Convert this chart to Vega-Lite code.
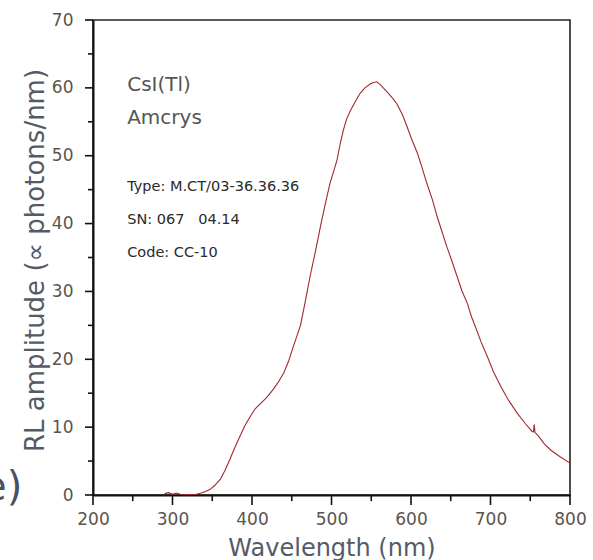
{
  "$schema": "https://vega.github.io/schema/vega-lite/v6.json",
  "width": 477,
  "height": 475,
  "autosize": {"type": "none"},
  "padding": {"left": 93, "top": 20, "right": 23, "bottom": 65},
  "background": "white",
  "config": {
    "font": "DejaVu Sans",
    "view": {"stroke": "#222", "strokeWidth": 1.6},
    "axis": {"grid": false}
  },
  "datasets": {
    "spectrum": [
      {"wavelength": 290, "amplitude": 0.2}, {"wavelength": 295, "amplitude": 0.35}, {"wavelength": 300, "amplitude": 0.1},
      {"wavelength": 305, "amplitude": 0.3}, {"wavelength": 310, "amplitude": 0.1}, {"wavelength": 320, "amplitude": 0.05},
      {"wavelength": 330, "amplitude": 0.1}, {"wavelength": 335, "amplitude": 0.25}, {"wavelength": 340, "amplitude": 0.45},
      {"wavelength": 347, "amplitude": 0.8}, {"wavelength": 353, "amplitude": 1.4}, {"wavelength": 360, "amplitude": 2.3},
      {"wavelength": 366, "amplitude": 3.6}, {"wavelength": 372, "amplitude": 5.2}, {"wavelength": 378, "amplitude": 6.9},
      {"wavelength": 385, "amplitude": 8.7}, {"wavelength": 391, "amplitude": 10.2}, {"wavelength": 398, "amplitude": 11.6},
      {"wavelength": 404, "amplitude": 12.7}, {"wavelength": 410, "amplitude": 13.4}, {"wavelength": 418, "amplitude": 14.3},
      {"wavelength": 427, "amplitude": 15.6}, {"wavelength": 434, "amplitude": 16.8}, {"wavelength": 440, "amplitude": 18.0},
      {"wavelength": 446, "amplitude": 19.7}, {"wavelength": 452, "amplitude": 21.9}, {"wavelength": 457, "amplitude": 23.6},
      {"wavelength": 461, "amplitude": 25.0}, {"wavelength": 467, "amplitude": 28.5}, {"wavelength": 473, "amplitude": 32.2},
      {"wavelength": 480, "amplitude": 36.0}, {"wavelength": 486, "amplitude": 39.5}, {"wavelength": 492, "amplitude": 42.8},
      {"wavelength": 498, "amplitude": 45.9}, {"wavelength": 503, "amplitude": 47.8}, {"wavelength": 507, "amplitude": 49.4},
      {"wavelength": 511, "amplitude": 51.8}, {"wavelength": 515, "amplitude": 53.8}, {"wavelength": 519, "amplitude": 55.4},
      {"wavelength": 524, "amplitude": 56.7}, {"wavelength": 530, "amplitude": 58.0}, {"wavelength": 536, "amplitude": 59.2},
      {"wavelength": 542, "amplitude": 60.0}, {"wavelength": 549, "amplitude": 60.6}, {"wavelength": 553, "amplitude": 60.8},
      {"wavelength": 557, "amplitude": 60.9}, {"wavelength": 562, "amplitude": 60.4}, {"wavelength": 566, "amplitude": 59.9},
      {"wavelength": 570, "amplitude": 59.4}, {"wavelength": 576, "amplitude": 58.6}, {"wavelength": 582, "amplitude": 57.7},
      {"wavelength": 589, "amplitude": 56.1}, {"wavelength": 595, "amplitude": 54.3}, {"wavelength": 601, "amplitude": 52.4},
      {"wavelength": 608, "amplitude": 50.4}, {"wavelength": 614, "amplitude": 48.2}, {"wavelength": 620, "amplitude": 45.9},
      {"wavelength": 627, "amplitude": 43.5}, {"wavelength": 633, "amplitude": 41.0}, {"wavelength": 639, "amplitude": 38.8},
      {"wavelength": 645, "amplitude": 36.6}, {"wavelength": 652, "amplitude": 34.3}, {"wavelength": 658, "amplitude": 32.2},
      {"wavelength": 664, "amplitude": 30.1}, {"wavelength": 671, "amplitude": 28.2}, {"wavelength": 676, "amplitude": 26.3},
      {"wavelength": 681, "amplitude": 24.8}, {"wavelength": 688, "amplitude": 22.6}, {"wavelength": 696, "amplitude": 20.4},
      {"wavelength": 704, "amplitude": 18.1}, {"wavelength": 713, "amplitude": 16.0}, {"wavelength": 723, "amplitude": 13.9},
      {"wavelength": 734, "amplitude": 12.0}, {"wavelength": 744, "amplitude": 10.5}, {"wavelength": 752, "amplitude": 9.4},
      {"wavelength": 754, "amplitude": 9.3}, {"wavelength": 755, "amplitude": 10.4}, {"wavelength": 756, "amplitude": 9.2},
      {"wavelength": 760, "amplitude": 8.7}, {"wavelength": 768, "amplitude": 7.5}, {"wavelength": 776, "amplitude": 6.6},
      {"wavelength": 788, "amplitude": 5.6}, {"wavelength": 800, "amplitude": 4.7}
    ],
    "majorX": [
      {"wavelength": 200}, {"wavelength": 300}, {"wavelength": 400}, {"wavelength": 500}, {"wavelength": 600}, {"wavelength": 700}, {"wavelength": 800}
    ],
    "minorX": [
      {"wavelength": 250}, {"wavelength": 350}, {"wavelength": 450}, {"wavelength": 550}, {"wavelength": 650}, {"wavelength": 750}
    ],
    "majorY": [
      {"amplitude": 0}, {"amplitude": 10}, {"amplitude": 20}, {"amplitude": 30}, {"amplitude": 40}, {"amplitude": 50}, {"amplitude": 60}, {"amplitude": 70}
    ],
    "minorY": [
      {"amplitude": 5}, {"amplitude": 15}, {"amplitude": 25}, {"amplitude": 35}, {"amplitude": 45}, {"amplitude": 55}, {"amplitude": 65}
    ],
    "notes": [
      {"wavelength": 243, "amplitude": 60.4, "text": "CsI(Tl)", "kind": "sample"},
      {"wavelength": 243, "amplitude": 55.6, "text": "Amcrys", "kind": "sample"},
      {"wavelength": 243, "amplitude": 45.4, "text": "Type: M.CT/03-36.36.36", "kind": "detail"},
      {"wavelength": 243, "amplitude": 40.5, "text": "SN: 067\u00a0\u00a0\u00a004.14", "kind": "detail"},
      {"wavelength": 243, "amplitude": 35.7, "text": "Code: CC-10", "kind": "detail"},
      {"wavelength": 111, "amplitude": -0.7, "text": "(e)", "kind": "panel"}
    ]
  },
  "layer": [
    {
      "data": {"name": "spectrum"},
      "mark": {"type": "line", "color": "#a3282c", "strokeWidth": 1.1},
      "encoding": {
        "x": {
          "field": "wavelength", "type": "quantitative",
          "scale": {"domain": [200, 800], "nice": false},
          "axis": {
            "values": [200, 300, 400, 500, 600, 700, 800],
            "domainColor": "#111", "domainWidth": 2,
            "ticks": false,
            "labelFontSize": 17, "labelColor": "#5c544c", "labelPadding": 16,
            "labelFlush": false,
            "title": "Wavelength (nm)", "titleFontSize": 24, "titleFontWeight": "normal",
            "titleColor": "#555a66", "titleY": 60, "titleBaseline": "alphabetic"
          }
        },
        "y": {
          "field": "amplitude", "type": "quantitative",
          "scale": {"domain": [0, 70], "nice": false},
          "axis": {
            "values": [0, 10, 20, 30, 40, 50, 60, 70],
            "domainColor": "#111", "domainWidth": 2,
            "ticks": false,
            "labelFontSize": 17, "labelColor": "#5c544c", "labelPadding": 20,
            "labelFlush": false,
            "title": "RL amplitude (\u221d photons/nm)", "titleFontSize": 26, "titleFontWeight": "normal",
            "titleColor": "#555a66", "titleX": -58, "titleY": 240, "titleAngle": -90, "titleAlign": "center", "titleBaseline": "middle"
          }
        }
      }
    },
    {
      "data": {"name": "majorX"},
      "mark": {"type": "rule", "color": "#111", "strokeWidth": 1.6, "clip": false},
      "encoding": {
        "x": {"field": "wavelength", "type": "quantitative"},
        "y": {"datum": 0},
        "y2": {"datum": -1.47}
      }
    },
    {
      "data": {"name": "minorX"},
      "mark": {"type": "rule", "color": "#111", "strokeWidth": 1.6, "clip": false},
      "encoding": {
        "x": {"field": "wavelength", "type": "quantitative"},
        "y": {"datum": 0},
        "y2": {"datum": -0.9}
      }
    },
    {
      "data": {"name": "majorY"},
      "mark": {"type": "rule", "color": "#111", "strokeWidth": 1.6, "clip": false},
      "encoding": {
        "y": {"field": "amplitude", "type": "quantitative"},
        "x": {"datum": 200},
        "x2": {"datum": 189.9}
      }
    },
    {
      "data": {"name": "minorY"},
      "mark": {"type": "rule", "color": "#111", "strokeWidth": 1.6, "clip": false},
      "encoding": {
        "y": {"field": "amplitude", "type": "quantitative"},
        "x": {"datum": 200},
        "x2": {"datum": 193.7}
      }
    },
    {
      "data": {"name": "notes"},
      "transform": [{"filter": "datum.kind === 'sample'"}],
      "mark": {"type": "text", "align": "left", "baseline": "middle", "fontSize": 20, "color": "#555"},
      "encoding": {
        "x": {"field": "wavelength", "type": "quantitative"},
        "y": {"field": "amplitude", "type": "quantitative"},
        "text": {"field": "text"}
      }
    },
    {
      "data": {"name": "notes"},
      "transform": [{"filter": "datum.kind === 'detail'"}],
      "mark": {"type": "text", "align": "left", "baseline": "middle", "fontSize": 14.5, "color": "#2a2a2a"},
      "encoding": {
        "x": {"field": "wavelength", "type": "quantitative"},
        "y": {"field": "amplitude", "type": "quantitative"},
        "text": {"field": "text"}
      }
    },
    {
      "data": {"name": "notes"},
      "transform": [{"filter": "datum.kind === 'panel'"}],
      "mark": {"type": "text", "align": "right", "baseline": "alphabetic", "fontSize": 40, "color": "#4a5064"},
      "encoding": {
        "x": {"field": "wavelength", "type": "quantitative"},
        "y": {"field": "amplitude", "type": "quantitative"},
        "text": {"field": "text"}
      }
    }
  ]
}
